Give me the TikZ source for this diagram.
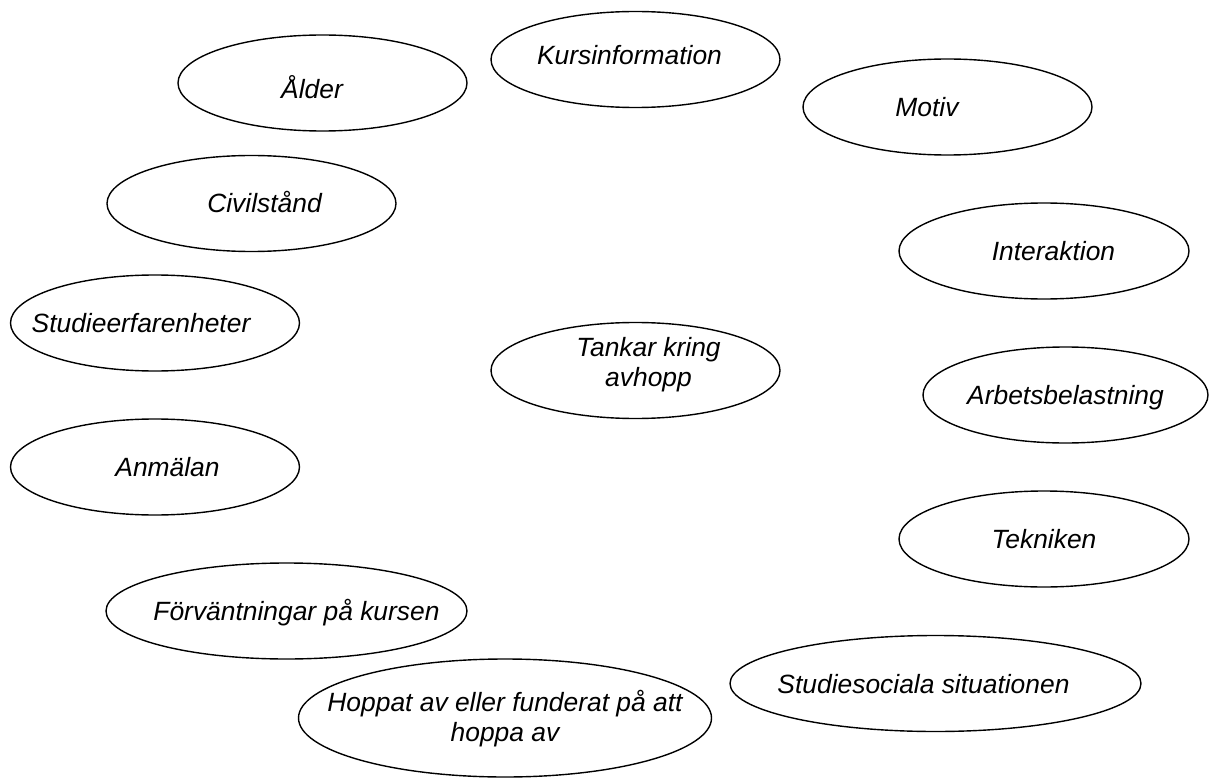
\documentclass[tikz,border=0pt]{standalone}
\usepackage{fontspec}
\setmainfont{Liberation Sans}
\usetikzlibrary{shapes.geometric}

\begin{document}
\begin{tikzpicture}[x=1pt,y=-1pt,
  tema/.style={ellipse,draw,line width=1.4pt,inner xsep=-80pt,inner ysep=0pt,
    minimum width=289,minimum height=96,text height=19pt,text depth=0pt,
    font=\fontsize{26.4}{30}\selectfont\itshape,align=center}]
\useasboundingbox (0,0) rectangle (1210,778);
\node (K) [tema,text height=11pt] at (635.5,59.5) {Kursinformation\hspace*{12pt}};
\node (A) [tema,text height=32pt] at (322.5,83) {Ålder\hspace*{21pt}};
\node (M) [tema] at (947.5,107) {Motiv\hspace*{41pt}};
\node (C) [tema] at (251.5,203.5) {\hspace*{26pt}Civilstånd};
\node (I) [tema,minimum width=290] at (1044,251) {\hspace*{19pt}Interaktion};
\node (SE) [tema] at (155,323) {Studieerfarenheter\hspace*{28pt}};
\node (T) [tema,text height=31pt] at (635.5,370.5) {\hspace*{26pt}Tankar kring\\\hspace*{26pt}avhopp};
\node (AB) [tema,minimum width=285] at (1065.5,395) {Arbetsbelastning};
\node (AN) [tema] at (155,467) {\hspace*{25pt}Anmälan};
\node (TE) [tema,minimum width=290] at (1044,539) {Tekniken};
\node (F) [tema,minimum width=361] at (286.5,611) {\hspace*{20pt}Förväntningar på kursen};
\node (SS) [tema,minimum width=411] at (935.5,683.5) {Studiesociala situationen\hspace*{24pt}};
\node (H) [tema,minimum width=413,minimum height=118,text height=46pt] at (505,718) {Hoppat av eller funderat på att\\hoppa av};
\end{tikzpicture}
\end{document}
